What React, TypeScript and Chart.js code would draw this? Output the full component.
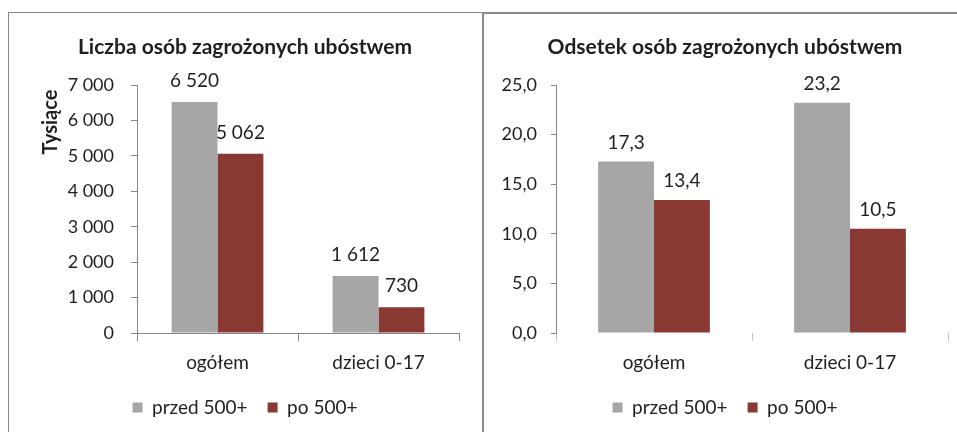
import React, { useEffect, useRef } from 'react';
import { Chart, registerables } from 'chart.js';

Chart.register(...registerables);

// ---- data ----
const categories = ['ogółem', 'dzieci 0-17'];
const seriesNames = ['przed 500+', 'po 500+'];
const countBefore = [6520, 1612];
const countAfter = [5062, 730];
const rateBefore = [17.3, 23.2];
const rateAfter = [13.4, 10.5];
const countTitle = 'Liczba osób zagrożonych ubóstwem';
const rateTitle = 'Odsetek osób zagrożonych ubóstwem';
const countAxisTitle = 'Tysiące';
const countMax = 7000;
const countStep = 1000;
const rateMax = 25;
const rateStep = 5;

const FONT = "Lato, 'Open Sans', sans-serif";
const TEXT = '#1f1f1f';
const AXIS = '#868686';
const GRAY = '#A6A6A7';
const RED = '#893832';

const fmtCount = (v: number) => String(Math.round(v)).replace(/\B(?=(\d{3})+(?!\d))/g, ' ');
const fmtRate = (v: number) => Number(v).toFixed(1).replace('.', ',');

const valueLabels = (fmt: (v: number) => string, offset: number) => ({
  id: 'valueLabels',
  afterDatasetsDraw(chart: any) {
    const ctx = chart.ctx;
    ctx.save();
    ctx.font = `19px ${FONT}`;
    ctx.fillStyle = TEXT;
    ctx.textAlign = 'center';
    ctx.textBaseline = 'middle';
    chart.data.datasets.forEach((ds: any, i: number) => {
      const meta = chart.getDatasetMeta(i);
      meta.data.forEach((el: any, j: number) => {
        ctx.fillText(fmt(ds.data[j]), el.x, el.y - offset);
      });
    });
    ctx.restore();
  },
});

const yTitlePlugin = (text: string, dx: number, dy: number) => ({
  id: 'yTitle',
  afterDraw(chart: any) {
    const ctx = chart.ctx;
    const a = chart.chartArea;
    ctx.save();
    ctx.translate(a.left - dx, a.top + dy);
    ctx.rotate(-Math.PI / 2);
    ctx.font = `bold 20px ${FONT}`;
    ctx.fillStyle = TEXT;
    ctx.textAlign = 'center';
    ctx.textBaseline = 'middle';
    ctx.fillText(text, 0, 0);
    ctx.restore();
  },
});

function makeConfig(opts: {
  title: string;
  before: number[];
  after: number[];
  max: number;
  step: number;
  fmt: (v: number) => string;
  padLeft: number;
  padRight: number;
  padBottom: number;
  yWidth: number;
  titleTop: number;
  titleBottom: number;
  xHeight: number;
  yTickLen: number;
  yTickPad: number;
  xBorder: boolean;
  xTickColor: string;
  labelOffset: number;
  extraPlugins: any[];
}) {
  return {
    type: 'bar',
    data: {
      labels: categories,
      datasets: [
        { label: seriesNames[0], data: opts.before, backgroundColor: GRAY, borderWidth: 0 },
        { label: seriesNames[1], data: opts.after, backgroundColor: RED, borderWidth: 0 },
      ],
    },
    options: {
      responsive: false,
      animation: false,
      devicePixelRatio: 1,
      datasets: { bar: { categoryPercentage: 0.57, barPercentage: 1 } },
      layout: { padding: { left: opts.padLeft, right: opts.padRight, top: 0, bottom: opts.padBottom } },
      plugins: {
        title: {
          display: true,
          text: opts.title,
          color: TEXT,
          font: { family: FONT, size: 21, weight: 'bold' },
          padding: { top: opts.titleTop, bottom: opts.titleBottom },
        },
        legend: {
          display: true,
          position: 'bottom',
          labels: {
            boxWidth: 10,
            boxHeight: 10,
            padding: 20,
            color: TEXT,
            font: { family: FONT, size: 19 },
          },
        },
        tooltip: { enabled: false },
      },
      scales: {
        x: {
          afterFit(scale: any) { scale.height = opts.xHeight; },
          grid: { drawOnChartArea: false, offset: true, tickLength: 8, color: opts.xTickColor },
          border: { display: opts.xBorder, color: AXIS },
          ticks: { color: TEXT, font: { family: FONT, size: 19 }, padding: 10 },
        },
        y: {
          min: 0,
          max: opts.max,
          afterFit(scale: any) { scale.width = opts.yWidth; },
          grid: { drawOnChartArea: false, tickLength: opts.yTickLen, color: AXIS },
          border: { color: AXIS },
          ticks: {
            stepSize: opts.step,
            color: TEXT,
            padding: opts.yTickPad,
            font: { family: FONT, size: 18 },
            callback: (v: any) => opts.fmt(Number(v)),
          },
        },
      },
    },
    plugins: [valueLabels(opts.fmt, opts.labelOffset), ...opts.extraPlugins],
  };
}

export default function App() {
  const leftRef = useRef<HTMLCanvasElement | null>(null);
  const rightRef = useRef<HTMLCanvasElement | null>(null);

  useEffect(() => {
    const left = new Chart(
      leftRef.current as HTMLCanvasElement,
      makeConfig({
        title: countTitle,
        before: countBefore,
        after: countAfter,
        max: countMax,
        step: countStep,
        fmt: fmtCount,
        padLeft: 22,
        padRight: 22,
        padBottom: 19,
        yWidth: 106,
        titleTop: 21.4,
        titleBottom: 25.4,
        xHeight: 45,
        yTickLen: 6,
        yTickPad: 17,
        xBorder: true,
        xTickColor: AXIS,
        labelOffset: 21,
        extraPlugins: [yTitlePlugin(countAxisTitle, 86, 37)],
      }) as any
    );
    const right = new Chart(
      rightRef.current as HTMLCanvasElement,
      makeConfig({
        title: rateTitle,
        before: rateBefore,
        after: rateAfter,
        max: rateMax,
        step: rateStep,
        fmt: fmtRate,
        padLeft: 18,
        padRight: 9,
        padBottom: 19,
        yWidth: 54,
        titleTop: 20.4,
        titleBottom: 25.4,
        xHeight: 45,
        yTickLen: 5,
        yTickPad: 14,
        xBorder: false,
        xTickColor: '#c4c4c4',
        labelOffset: 19,
        extraPlugins: [],
      }) as any
    );
    return () => {
      left.destroy();
      right.destroy();
    };
  }, []);

  return (
    <div
      style={{
        position: 'fixed',
        left: 0,
        top: 0,
        width: 957,
        height: 432,
        overflow: 'hidden',
        background: '#fff',
      }}
    >
      <div
        style={{
          position: 'absolute',
          left: 8,
          top: 12,
          width: 474,
          height: 440,
          boxSizing: 'border-box',
          borderLeft: '1px solid #8a8a8a',
          borderTop: '1px solid #8a8a8a',
        }}
      >
        <canvas ref={leftRef} width={472} height={433} style={{ position: 'absolute', left: 0, top: 0, display: 'block' }} />
      </div>
      <div
        style={{
          position: 'absolute',
          left: 482,
          top: 12,
          width: 475,
          height: 440,
          boxSizing: 'border-box',
          borderLeft: '2px solid #8a8a8a',
          borderTop: '2px solid #8a8a8a',
        }}
      >
        <canvas ref={rightRef} width={473} height={432} style={{ position: 'absolute', left: 0, top: 0, display: 'block' }} />
      </div>
    </div>
  );
}
